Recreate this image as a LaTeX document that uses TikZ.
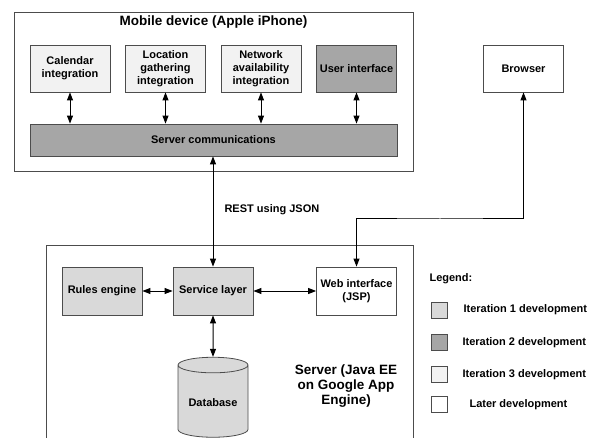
\documentclass[tikz,border=0pt]{standalone}
\usepackage{fontspec}
\setmainfont{Liberation Sans}
\usetikzlibrary{arrows.meta,shapes.geometric}
\definecolor{iterone}{gray}{0.85}
\definecolor{itertwo}{gray}{0.65}
\definecolor{iterthree}{gray}{0.95}
\definecolor{frame}{gray}{0.3}

\begin{document}
\begin{tikzpicture}[x=1pt,y=-1pt,
    every node/.style={font=\fontsize{11}{13}\selectfont\bfseries},
    box/.style={draw=frame,line width=0.8pt,align=center,inner sep=1pt,minimum width=80pt,minimum height=47pt},
    first/.style={box,fill=iterone},
    second/.style={box,fill=itertwo},
    third/.style={box,fill=iterthree},
    later/.style={box,fill=white},
    key/.style={draw=frame,line width=0.8pt,minimum size=16pt,inner sep=0pt},
    bigtext/.style={font=\fontsize{13.5}{15}\selectfont\bfseries,align=center},
    link/.style={{Triangle[length=8pt,width=6pt]}-{Triangle[length=8pt,width=6pt]},line width=1pt}]
    \useasboundingbox (0,0) rectangle (591,438);
    \draw[frame,line width=0.8pt] (14,12) rectangle (413,171);
    \draw[frame,line width=0.8pt] (46,438) -- (46,245) -- (413,245) -- (413,438);
    \node[bigtext] (mobile) at (213.5,22) {Mobile device (Apple iPhone)};
    \node[third] (cal) at (70,68.5) {Calendar\\integration};
    \node[third] (loc) at (165.5,68.5) {Location\\gathering\\integration};
    \node[third] (net) at (261,68.5) {Network\\availability\\integration};
    \node[second] (ui) at (356.5,68.5) {User interface};
    \node[second,minimum width=367pt,minimum height=32pt] (comms) at (213.5,140) {Server communications};
    \node[later] (browser) at (523.5,68.5) {Browser};
    \node[anchor=west] (rest) at (221,210) {REST using JSON};
    \node[first,minimum height=48pt] (rules) at (102,291) {Rules engine};
    \node[first,minimum height=48pt] (svc) at (213,291) {Service layer};
    \node[later,minimum height=48pt] (web) at (356.5,291) {Web interface\\(JSP)};
    \node[cylinder,shape border rotate=90,draw=frame,fill=iterone,line width=0.8pt,
        minimum height=80pt,minimum width=70pt,aspect=0.28] (db) at (213,403) {Database};
    \node[bigtext] (server) at (346,386) {Server (Java EE\\on Google App\\Engine)};
    \coordinate (turn) at (440,219);
    \draw[link] (cal) -- (cal |- comms.north);
    \draw[link] (loc) -- (loc |- comms.north);
    \draw[link] (net) -- (net |- comms.north);
    \draw[link] (ui) -- (ui |- comms.north);
    \draw[link] (svc) -- (svc |- comms.south);
    \draw[link] (web) |- (turn) -| (browser);
    \draw[link] (rules) -- (svc);
    \draw[link] (svc) -- (web);
    \draw[link] (svc) -- (db);
    \node[anchor=west] (legend) at (426,279) {Legend:};
    \node[key,fill=iterone] (keyone) at (439,310) {};
    \node[key,fill=itertwo] (keytwo) at (439,342.5) {};
    \node[key,fill=iterthree] (keythree) at (439,374.5) {};
    \node[key,fill=white] (keylater) at (439,404.5) {};
    \node[anchor=west] (textone) at (460,310) {Iteration 1 development};
    \node[anchor=west] (texttwo) at (459,342.5) {Iteration 2 development};
    \node[anchor=west] (textthree) at (459,374.5) {Iteration 3 development};
    \node[anchor=west] (textlater) at (466,404.5) {Later development};
\end{tikzpicture}
\end{document}
